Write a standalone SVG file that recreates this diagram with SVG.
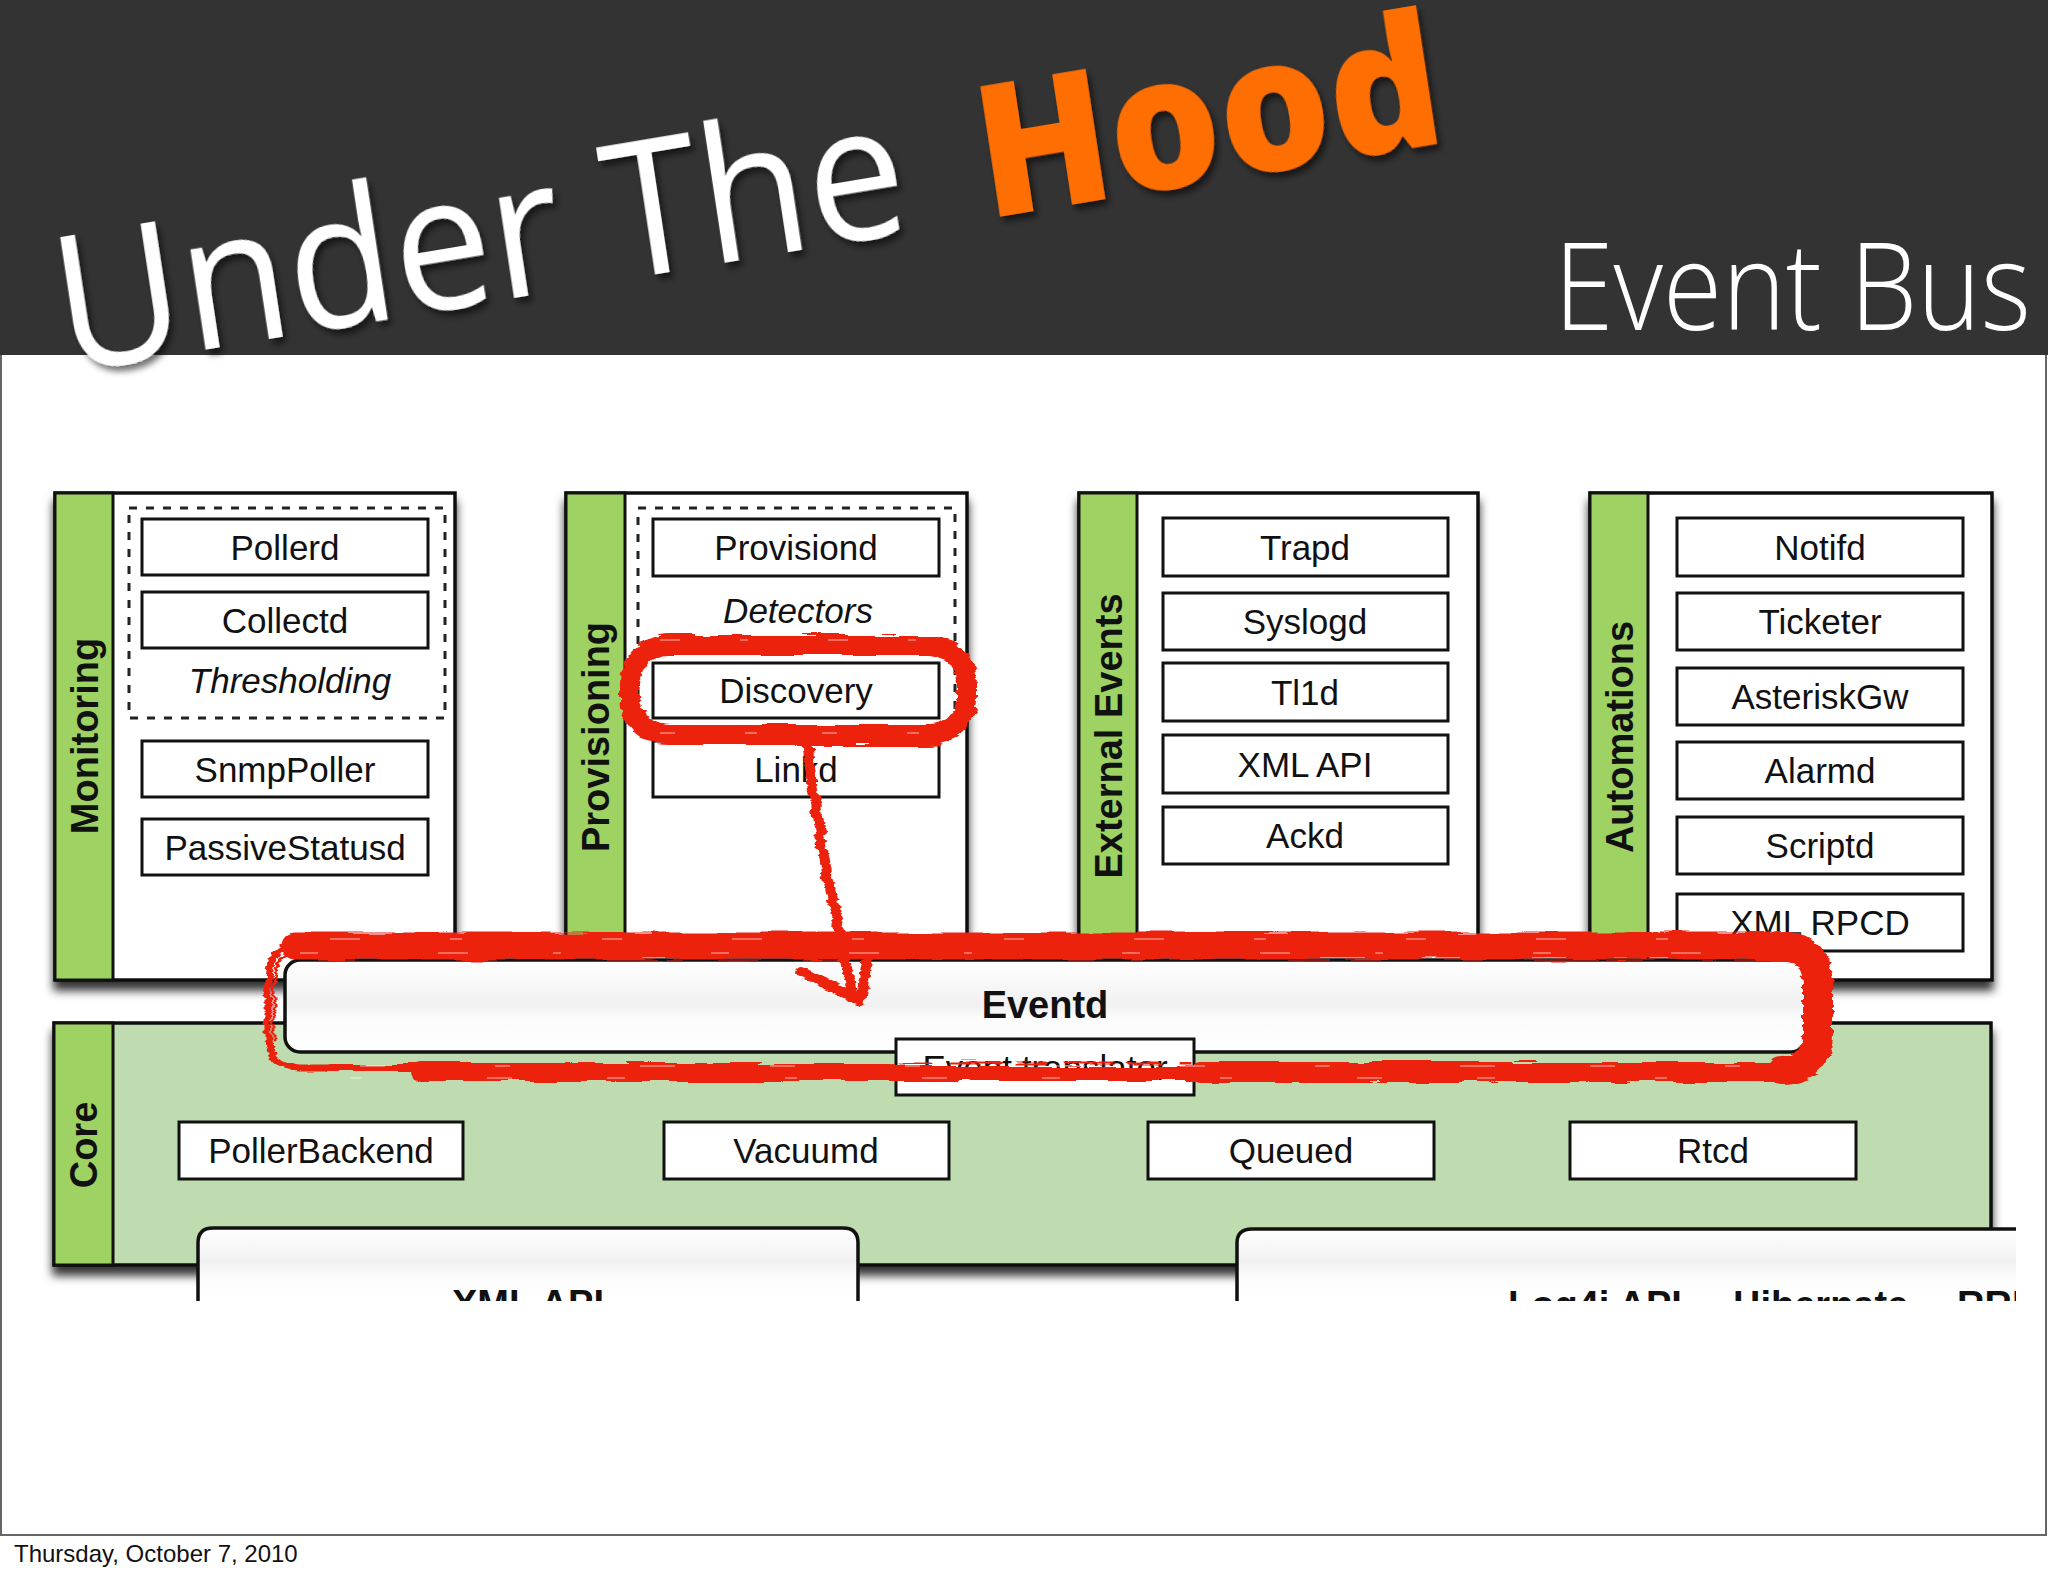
<svg xmlns="http://www.w3.org/2000/svg" width="2048" height="1576" viewBox="0 0 2048 1576">
<defs>
<style>
.panel{fill:#ffffff;stroke:#111;stroke-width:3.5}
.bar{fill:#9ED263;stroke:#111;stroke-width:3}
.box{fill:#ffffff;stroke:#111;stroke-width:3}
.dash{fill:none;stroke:#222;stroke-width:3;stroke-dasharray:8 9}
.t{font-family:"Liberation Sans",Arial,Helvetica,sans-serif;font-size:35px;fill:#111;text-anchor:middle}
.it{font-style:italic}
.vl{font-family:"Liberation Sans",Arial,Helvetica,sans-serif;font-size:38px;font-weight:bold;fill:#111;text-anchor:middle}
.bt{font-family:"Liberation Sans",Arial,Helvetica,sans-serif;font-size:38px;font-weight:bold;fill:#111}
.red{fill:none;stroke:#EC2410;stroke-linecap:round;stroke-linejoin:round}
.streak{fill:none;stroke:#ffffff;stroke-width:1.5;opacity:0.45}
</style>
<filter id="sh" x="-10%" y="-10%" width="120%" height="130%">
<feDropShadow dx="0" dy="9" stdDeviation="5" flood-color="#000" flood-opacity="0.8"/>
</filter>
<filter id="tsh" x="-10%" y="-20%" width="120%" height="150%">
<feDropShadow dx="3" dy="6" stdDeviation="3" flood-color="#000" flood-opacity="0.55"/>
</filter>
<filter id="rough" x="-5%" y="-10%" width="110%" height="120%">
<feTurbulence type="fractalNoise" baseFrequency="0.02 0.2" numOctaves="2" seed="3" result="n"/>
<feDisplacementMap in="SourceGraphic" in2="n" scale="9" xChannelSelector="R" yChannelSelector="G"/>
</filter>
<linearGradient id="eg" x1="0" y1="0" x2="0" y2="1">
<stop offset="0" stop-color="#ffffff"/>
<stop offset="0.3" stop-color="#f6f6f6"/>
<stop offset="0.5" stop-color="#f1f1f1"/>
<stop offset="0.62" stop-color="#fbfbfb"/>
<stop offset="1" stop-color="#ffffff"/>
</linearGradient>
<linearGradient id="lg" x1="0" y1="1228" x2="0" y2="1302" gradientUnits="userSpaceOnUse">
<stop offset="0" stop-color="#ffffff"/>
<stop offset="0.45" stop-color="#f1f1f1"/>
<stop offset="0.7" stop-color="#fdfdfd"/>
<stop offset="1" stop-color="#ffffff"/>
</linearGradient>
<clipPath id="cut"><rect x="0" y="0" width="2044" height="1301"/></clipPath>
<clipPath id="cutR"><rect x="0" y="0" width="2016" height="1301"/></clipPath>
</defs>

<rect x="0" y="0" width="2048" height="1576" fill="#ffffff"/>
<g id="header">
<rect x="0" y="0" width="2048" height="355" fill="#333333"/>
<g filter="url(#tsh)" transform="matrix(0.986,-0.165,0.15,0.989,60,374)">
<text x="5" y="0" font-family="'Open Sans','Noto Sans',sans-serif" font-size="188" font-weight="400" fill="#ffffff" textLength="860" lengthAdjust="spacingAndGlyphs">Under The</text>
<text x="940" y="0" font-family="'Open Sans','Noto Sans',sans-serif" font-size="184" font-weight="800" fill="#FF6E00" textLength="468" lengthAdjust="spacingAndGlyphs">Hood</text>
</g>
<text x="1554" y="330" font-family="'Open Sans','Noto Sans',sans-serif" font-size="122" font-weight="300" fill="#ffffff" textLength="477" lengthAdjust="spacingAndGlyphs">Event Bus</text>
</g>
<path d="M1,355 V1535 H2046 V355" fill="none" stroke="#666" stroke-width="2"/>

<g id="monitoring">
<rect class="panel" x="55" y="493" width="400" height="487" filter="url(#sh)"/>
<rect class="bar" x="55" y="493" width="58" height="487"/>
<text class="vl" transform="translate(98,736) rotate(-90)">Monitoring</text>
<rect class="dash" x="129" y="508" width="316" height="210"/>
<rect class="box" x="142" y="519" width="286" height="56"/><text class="t" x="285" y="560">Pollerd</text>
<rect class="box" x="142" y="592" width="286" height="56"/><text class="t" x="285" y="633">Collectd</text>
<text class="t it" x="290" y="693">Thresholding</text>
<rect class="box" x="142" y="741" width="286" height="56"/><text class="t" x="285" y="782">SnmpPoller</text>
<rect class="box" x="142" y="819" width="286" height="56"/><text class="t" x="285" y="860">PassiveStatusd</text>
</g>

<g id="provisioning">
<rect class="panel" x="566" y="493" width="401" height="487" filter="url(#sh)"/>
<rect class="bar" x="566" y="493" width="59" height="487"/>
<text class="vl" transform="translate(609,737) rotate(-90)">Provisioning</text>
<rect class="dash" x="638" y="508" width="317" height="227"/>
<rect class="box" x="653" y="519" width="286" height="57"/><text class="t" x="796" y="560">Provisiond</text>
<text class="t it" x="798" y="623">Detectors</text>
<rect class="box" x="653" y="663" width="286" height="55"/><text class="t" x="796" y="703">Discovery</text>
<rect class="box" x="653" y="741" width="286" height="56"/><text class="t" x="796" y="782">Linkd</text>
</g>

<g id="external-events">
<rect class="panel" x="1079" y="493" width="399" height="487" filter="url(#sh)"/>
<rect class="bar" x="1079" y="493" width="58" height="487"/>
<text class="vl" transform="translate(1122,736) rotate(-90)">External Events</text>
<rect class="box" x="1163" y="518" width="285" height="58"/><text class="t" x="1305" y="560">Trapd</text>
<rect class="box" x="1163" y="593" width="285" height="57"/><text class="t" x="1305" y="634">Syslogd</text>
<rect class="box" x="1163" y="663" width="285" height="58"/><text class="t" x="1305" y="705">Tl1d</text>
<rect class="box" x="1163" y="735" width="285" height="58"/><text class="t" x="1305" y="777">XML API</text>
<rect class="box" x="1163" y="807" width="285" height="57"/><text class="t" x="1305" y="848">Ackd</text>
</g>

<g id="automations">
<rect class="panel" x="1590" y="493" width="402" height="487" filter="url(#sh)"/>
<rect class="bar" x="1590" y="493" width="58" height="487"/>
<text class="vl" transform="translate(1633,737) rotate(-90)">Automations</text>
<rect class="box" x="1677" y="518" width="286" height="58"/><text class="t" x="1820" y="560">Notifd</text>
<rect class="box" x="1677" y="593" width="286" height="57"/><text class="t" x="1820" y="634">Ticketer</text>
<rect class="box" x="1677" y="668" width="286" height="57"/><text class="t" x="1820" y="709">AsteriskGw</text>
<rect class="box" x="1677" y="742" width="286" height="57"/><text class="t" x="1820" y="783">Alarmd</text>
<rect class="box" x="1677" y="817" width="286" height="57"/><text class="t" x="1820" y="858">Scriptd</text>
<rect class="box" x="1677" y="894" width="286" height="57"/><text class="t" x="1820" y="935">XML RPCD</text>
</g>

<g id="core">
<rect x="54" y="1023" width="1937" height="242" fill="#BEDCB0" stroke="#111" stroke-width="3.5" filter="url(#sh)"/>
<rect class="bar" x="54" y="1023" width="59" height="242"/>
<text class="vl" transform="translate(97,1145) rotate(-90)">Core</text>
<rect class="box" x="179" y="1122" width="284" height="57"/><text class="t" x="321" y="1163">PollerBackend</text>
<rect class="box" x="664" y="1122" width="285" height="57"/><text class="t" x="806" y="1163">Vacuumd</text>
<rect class="box" x="1148" y="1122" width="286" height="57"/><text class="t" x="1291" y="1163">Queued</text>
<rect class="box" x="1570" y="1122" width="286" height="57"/><text class="t" x="1713" y="1163">Rtcd</text>
</g>

<g id="lower-boxes" clip-path="url(#cut)">
<g id="xml-api">
<path d="M198,1310 V1243 Q198,1228 213,1228 H843 Q858,1228 858,1243 V1310 Z" fill="url(#lg)" stroke="#111" stroke-width="3.5"/>
<text class="bt" x="528" y="1317" text-anchor="middle">XML API</text>
</g>
<g id="persistence">
<path d="M1237,1310 V1243 Q1237,1229 1252,1229 H2016 V1310 Z" fill="url(#lg)" stroke="none"/>
<path d="M1237,1310 V1243 Q1237,1229 1252,1229 H2016" fill="none" stroke="#111" stroke-width="3.5"/>
<text class="bt" x="1508" y="1318">Log4j API</text>
<text class="bt" x="1733" y="1318">Hibernate</text>
<text class="bt" x="1957" y="1318" clip-path="url(#cutR)">RRD</text>
</g>
</g>

<g id="eventd">
<rect x="285" y="960" width="1521" height="92" rx="15" fill="url(#eg)" stroke="#111" stroke-width="3.5"/>
<text class="bt" x="1045" y="1018" text-anchor="middle">Eventd</text>
</g>
<g id="event-translator">
<rect class="box" x="896" y="1039" width="298" height="56"/>
<text class="t" x="1045" y="1080">Event translator</text>
</g>

<g id="connectors">
<g filter="url(#rough)">
<rect class="red" x="630" y="645" width="337" height="90" rx="38" stroke-width="20"/>
<rect class="red" x="625" y="640" width="347" height="99" rx="42" stroke-width="5"/>
<path class="red" d="M807,738 C813,810 830,890 852,992" stroke-width="10"/>
<path class="red" d="M801,972 L860,1001 L869,952" stroke-width="10"/>
<path class="red" d="M295,946 H1785" stroke-width="27"/>
<path class="red" d="M1778,946 Q1818,946 1818,986 V1032 Q1818,1070 1782,1070" stroke-width="30"/>
<path class="red" d="M1790,1072 H1200" stroke-width="20"/>
<path class="red" d="M1200,1074 H890" stroke-width="14"/>
<path class="red" d="M890,1072 H420" stroke-width="18"/>
<path class="red" d="M430,1068 H330" stroke-width="8"/>
<path class="red" d="M305,943 Q268,945 268,982 V1038 Q268,1066 300,1068 H340" stroke-width="7"/>
<path class="red" d="M300,952 Q274,952 274,985 V1040" stroke-width="3"/>
<path class="red" d="M900,1063 H1190" stroke-width="3" stroke-dasharray="30 20 50 15"/>
</g>
<g class="streak">
<path d="M330,939 H1760" stroke-dasharray="30 90 12 140 20 110"/>
<path d="M300,953 H1770" stroke-dasharray="18 120 30 85 8 150"/>
<path d="M360,1066 H1780" stroke-dasharray="25 110 15 130 35 95"/>
<path d="M350,1078 H1770" stroke-dasharray="12 125 25 95 18 160"/>
<path d="M660,640 H940" stroke-dasharray="20 60 8 80"/>
<path d="M660,733 H940" stroke-dasharray="15 70 12 65"/>
</g>
</g>

<text x="14" y="1562" font-family="'Liberation Sans',Arial,sans-serif" font-size="24" fill="#111">Thursday, October 7, 2010</text>
</svg>
